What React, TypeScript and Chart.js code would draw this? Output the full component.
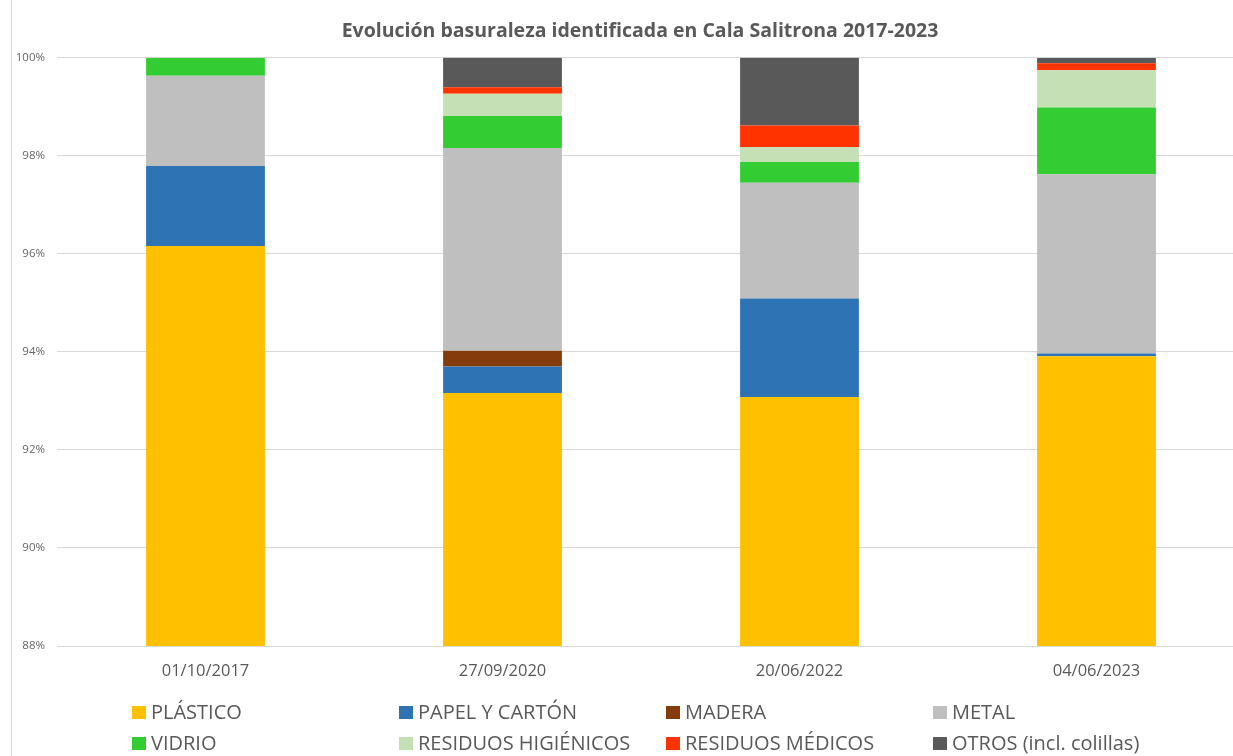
import React, { useEffect, useRef } from "react";
import { Chart, registerables } from "chart.js";

Chart.register(...registerables);

const title = "Evolución basuraleza identificada en Cala Salitrona 2017-2023";
const categories = ["01/10/2017", "27/09/2020", "20/06/2022", "04/06/2023"];

const seriesNames = [
  "PLÁSTICO",
  "PAPEL Y CARTÓN",
  "MADERA",
  "METAL",
  "VIDRIO",
  "RESIDUOS HIGIÉNICOS",
  "RESIDUOS MÉDICOS",
  "OTROS (incl. colillas)",
];

const plastico = [96.16, 93.16, 93.08, 93.91];
const papelCarton = [1.63, 0.54, 2.01, 0.055];
const madera = [0, 0.32, 0, 0];
const metal = [1.84, 4.14, 2.36, 3.66];
const vidrio = [0.37, 0.65, 0.42, 1.36];
const higienicos = [0, 0.455, 0.31, 0.76];
const medicos = [0, 0.13, 0.435, 0.14];
const otros = [0, 0.61, 1.39, 0.11];

const seriesValues = [plastico, papelCarton, madera, metal, vidrio, higienicos, medicos, otros];

const seriesColors = [
  "#FFC000",
  "#2E74B5",
  "#843C0C",
  "#BFBFBF",
  "#33CC33",
  "#C5E0B4",
  "#FF3300",
  "#595959",
];

const yMin = 88;
const yMax = 100;
const yStep = 2;

const FONT = "'Open Sans', 'DejaVu Sans', sans-serif";
const TEXT = "#595959";

export default function App() {
  const canvasRef = useRef<HTMLCanvasElement>(null);

  useEffect(() => {
    document.body.style.margin = "0";
    document.body.style.overflow = "hidden";
    const canvas = canvasRef.current;
    if (!canvas) return;
    const chart = new Chart(canvas, {
      type: "bar",
      data: {
        labels: categories,
        datasets: seriesNames.map((name, i) => ({
          label: name,
          data: seriesValues[i],
          backgroundColor: seriesColors[i],
          borderWidth: 0,
          barPercentage: 1,
          categoryPercentage: 0.4,
        })),
      },
      options: {
        animation: false,
        responsive: false,
        layout: { padding: { top: 57.7, bottom: 70, left: 0, right: 5 } },
        plugins: {
          legend: { display: false },
          title: { display: false },
          tooltip: { enabled: false },
        },
        scales: {
          x: {
            stacked: true,
            grid: { display: false },
            border: { display: false },
            ticks: {
              color: TEXT,
              font: { family: FONT, size: 16.5 },
              padding: 7,
            },
            afterFit: (s: any) => {
              s.height = 40;
            },
          },
          y: {
            stacked: true,
            min: yMin,
            max: yMax,
            grid: { color: "#D9D9D9", drawTicks: false },
            border: { display: false },
            ticks: {
              stepSize: yStep,
              color: "#666666",
              font: { family: FONT, size: 11.5 },
              padding: 12,
              callback: (v: any) => `${v}%`,
            },
            afterFit: (s: any) => {
              s.width = 57;
            },
          },
        },
      },
    });
    return () => chart.destroy();
  }, []);

  return (
    <div
      style={{
        position: "fixed",
        left: 0,
        top: 0,
        width: 1233,
        height: 756,
        overflow: "hidden",
        background: "#fff",
      }}
    >
      <canvas ref={canvasRef} width={1250} height={756} style={{ position: "absolute", left: 0, top: 0 }} />
      <div style={{ position: "absolute", left: 11, top: 0, width: 1, height: 756, background: "#D9D9D9" }} />
      <div
        style={{
          position: "absolute",
          left: 640,
          top: 30,
          transform: "translate(-50%, -50%)",
          fontFamily: FONT,
          fontWeight: 700,
          fontSize: 19.5,
          lineHeight: 1,
          color: TEXT,
          whiteSpace: "nowrap",
        }}
      >
        {title}
      </div>
      <div
        style={{
          position: "absolute",
          left: 132,
          top: 696.5,
          display: "grid",
          gridTemplateColumns: "repeat(4, 267px)",
          gridAutoRows: "31px",
          fontFamily: FONT,
          fontSize: 20,
          color: TEXT,
        }}
      >
        {seriesNames.map((name, i) => (
          <div key={name} style={{ display: "flex", alignItems: "center", whiteSpace: "nowrap" }}>
            <span
              style={{
                display: "inline-block",
                width: 14,
                height: 13,
                background: seriesColors[i],
                marginRight: 5,
              }}
            />
            <span style={{ lineHeight: 1 }}>{name}</span>
          </div>
        ))}
      </div>
    </div>
  );
}
